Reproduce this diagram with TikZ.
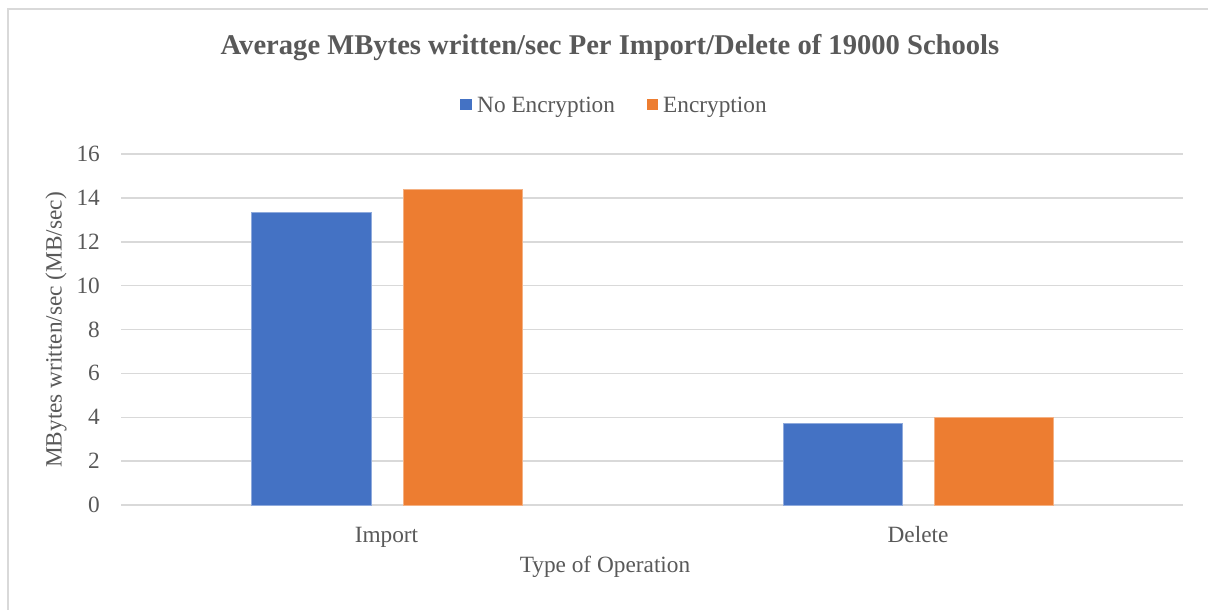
\documentclass[tikz,border=0pt]{standalone}
\usepackage{fontspec}
\setmainfont{Liberation Serif}
\definecolor{txt}{HTML}{595959}
\definecolor{grid}{HTML}{D9D9D9}
\definecolor{sblue}{HTML}{4472C4}
\definecolor{sorange}{HTML}{ED7D31}
\tikzset{
  lbl/.style={text=txt, inner sep=0pt, font=\fontsize{23.3}{28}\selectfont},
  ttl/.style={text=txt, inner sep=0pt, font=\fontsize{28.6}{34}\selectfont\bfseries},
  gridline/.style={draw=grid, line width=1.5pt},
  barblue/.style={fill=sblue, draw=sblue!60!white, line width=0.6pt},
  barorange/.style={fill=sorange, draw=sorange!60!white, line width=0.6pt},
}
\begin{document}
\begin{tikzpicture}[x=1pt,y=-1pt]
\useasboundingbox (0,0) rectangle (1208,610);
\clip (0,0) rectangle (1208,610);
\fill[white] (0,0) rectangle (1208,610);
% chart frame (cut by the page on right and bottom)
\draw[draw=grid, line width=2pt] (8,9) rectangle (1230,640);
% gridlines and tick labels
\foreach \v in {0,2,...,16}{
  \draw[gridline] (121,{505-21.9375*\v}) -- (1183,{505-21.9375*\v});
  \node[lbl, anchor=east] (t\v) at (100,{505-21.9375*\v}) {\v};
}
% bars
\fill[barblue]   (251,505) rectangle (371,{505-21.9375*13.32});
\fill[barorange] (403,505) rectangle (522,{505-21.9375*14.39});
\fill[barblue]   (783,505) rectangle (902,{505-21.9375*3.72});
\fill[barorange] (934,505) rectangle (1053,{505-21.9375*4.0});
\draw[barblue]   (251,505) rectangle (371,{505-21.9375*13.32});
\draw[barorange] (403,505) rectangle (522,{505-21.9375*14.39});
\draw[barblue]   (783,505) rectangle (902,{505-21.9375*3.72});
\draw[barorange] (934,505) rectangle (1053,{505-21.9375*4.0});
% title
\node[ttl, anchor=base] (title) at (610,55) {Average MBytes written/sec Per Import/Delete of 19000 Schools};
% legend
\fill[sblue] (460,99) rectangle (472,110);
\node[lbl, anchor=base west] (leg1) at (477,112) {No Encryption};
\fill[sorange] (647,99) rectangle (658,110);
\node[lbl, anchor=base west] (leg2) at (663,112) {Encryption};
% category labels
\node[lbl, anchor=base] (cimp) at (386.5,542) {Import};
\node[lbl, anchor=base] (cdel) at (918,542) {Delete};
% axis titles
\node[lbl, anchor=base] (xt) at (605,572) {Type of Operation};
\node[lbl, rotate=90, anchor=center] (yt) at (56,330) {MBytes written/sec (MB/sec)};
\end{tikzpicture}
\end{document}
